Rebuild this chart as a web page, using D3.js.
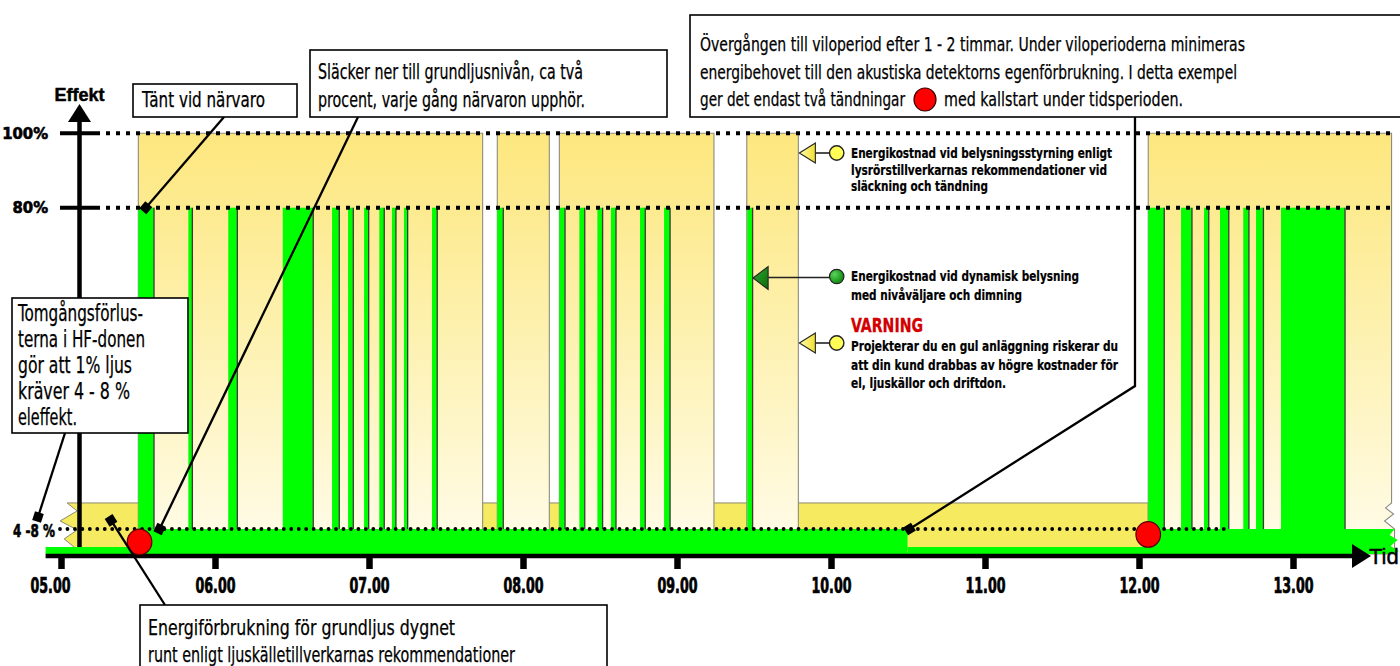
<!DOCTYPE html>
<html><head><meta charset="utf-8">
<script src="https://cdn.jsdelivr.net/npm/d3@7"></script>
<style>html,body{margin:0;padding:0;background:#fff;overflow:hidden}</style>
</head><body>
<svg id="chart" width="1400" height="666"></svg>
<script>
// ---------- DATA ----------
const hourTicks = [5, 6, 7, 8, 9, 10, 11, 12, 13];
const tickLabels = ["05.00", "06.00", "07.00", "08.00", "09.00", "10.00", "11.00", "12.00", "13.00"];
const levelTicks = [100, 80];
const levelLabels = ["100%", "80%"];
const baseTickLevel = 6;
const baseTickLabel = "4 -8 %";

// Yellow: lighting control by tube manufacturers' recommendation (100 %)
const yellowStart = [5.502, 7.833, 8.236, 9.453, 12.060];
const yellowEnd   = [7.738, 8.171, 9.240, 9.788, 13.640];
const yellowLevel = 100;
// Yellow idle (base light around the clock)
const idleStart = 5.04, idleEnd = 12.06, idleLevel = 12;

// Green: dynamic lighting, presence periods at 80 %
const presenceStart = [5.502, 5.827, 6.086, 6.440, 6.760, 6.864, 6.968, 7.067, 7.149, 7.227, 7.409,
  7.833, 8.236, 8.366, 8.483, 8.571, 8.760, 8.916, 9.456,
  12.060, 12.273, 12.422, 12.526, 12.677, 12.760, 12.922];
const presenceEnd = [5.604, 5.853, 6.145, 6.638, 6.807, 6.898, 6.998, 7.099, 7.175, 7.251, 7.443,
  7.872, 8.273, 8.401, 8.517, 8.604, 8.794, 8.955, 9.491,
  12.164, 12.344, 12.453, 12.583, 12.714, 12.808, 13.338];
const presenceLevel = 80;
// Green base level (base light / detector self consumption)
const baseStart = [4.90, 5.502, 10.497, 12.060];
const baseEnd   = [5.502, 10.497, 12.060, 13.66];
const baseLevel = [1.7, 6, 1.7, 6];
// Cold starts
const coldStartTime = [5.51, 12.06];
const coldStartLevel = [2.9, 4.7];

// ---------- SCALES ----------
const svg = d3.select("#chart");
const x = d3.scaleLinear().domain([5, 13]).range([61, 1293]);
const y = d3.scaleLinear().domain([0, 6, 80, 100]).range([554, 529, 207.7, 133.3]);

const NARROW = "'Liberation Sans Narrow','Arial Narrow','DejaVu Sans Condensed',sans-serif";

const defs = svg.append("defs");
const yg = defs.append("linearGradient").attr("id", "yellowGrad")
  .attr("gradientUnits", "userSpaceOnUse").attr("x1", 0).attr("x2", 0)
  .attr("y1", y(100)).attr("y2", y(6));
yg.append("stop").attr("offset", 0).attr("stop-color", "#fde77e");
yg.append("stop").attr("offset", 0.45).attr("stop-color", "#fdf0aa");
yg.append("stop").attr("offset", 1).attr("stop-color", "#fffbe4");
const tg = defs.append("linearGradient").attr("id", "triYellow").attr("x1", 0).attr("x2", 1).attr("y1", 0).attr("y2", 0);
tg.append("stop").attr("offset", 0).attr("stop-color", "#fffbb0");
tg.append("stop").attr("offset", 1).attr("stop-color", "#f2e030");
const gg = defs.append("linearGradient").attr("id", "triGreen").attr("x1", 0).attr("x2", 1).attr("y1", 0).attr("y2", 1);
gg.append("stop").attr("offset", 0).attr("stop-color", "#2fa82f");
gg.append("stop").attr("offset", 1).attr("stop-color", "#0b6a0b");
const rg = defs.append("radialGradient").attr("id", "circGreen").attr("cx", 0.35).attr("cy", 0.35).attr("r", 0.7);
rg.append("stop").attr("offset", 0).attr("stop-color", "#5ad35a");
rg.append("stop").attr("offset", 1).attr("stop-color", "#0a850a");
defs.append("marker").attr("id", "sq").attr("viewBox", "-6 -6 12 12")
  .attr("markerWidth", 12).attr("markerHeight", 12).attr("markerUnits", "userSpaceOnUse")
  .attr("refX", 0).attr("refY", 0).attr("orient", "auto")
  .append("path").attr("d", "M-4.6,-4.6H4.6V4.6H-4.6Z").attr("fill", "#000");

// ---------- IDLE YELLOW BAND ----------
{
  const x0 = x(idleStart), x1 = x(idleEnd), yt = y(idleLevel), yb = y(0);
  const zz = [[0,0],[10,8],[-7,18],[10,27],[-3,36],[8,45]];
  const p = d3.path();
  p.moveTo(x0, yt); p.lineTo(x1, yt); p.lineTo(x1, yb);
  p.lineTo(x0 + zz[zz.length-1][0], yb);
  for (let i = zz.length - 1; i >= 0; i--) p.lineTo(x0 + zz[i][0], yt + zz[i][1]);
  p.closePath();
  svg.append("path").attr("d", p.toString()).attr("fill", "#f6ea60").attr("stroke", "#8a8a70").attr("stroke-width", 1);
}

// ---------- TALL YELLOW COLUMNS ----------
const cols = svg.append("g");
yellowStart.forEach((s, i) => {
  const x0 = x(s), x1 = x(yellowEnd[i]), yt = y(yellowLevel), yb = y(0);
  const last = i === yellowStart.length - 1;
  const p = d3.path();
  p.moveTo(x0, yt); p.lineTo(x1, yt);
  if (last) {
    const b = y(idleLevel);
    p.lineTo(x1, b); p.lineTo(x1 - 6, b + 5); p.lineTo(x1 + 2, b + 11); p.lineTo(x1 - 7, b + 18); p.lineTo(x1 + 3, b + 26); p.lineTo(x1 + 3, yb);
  } else p.lineTo(x1, yb);
  p.lineTo(x0, yb); p.closePath();
  cols.append("path").attr("d", p.toString()).attr("fill", "url(#yellowGrad)").attr("stroke", "#8c8c80").attr("stroke-width", 1.1);
});

// ---------- GREEN PRESENCE BARS ----------
const bars = svg.append("g");
presenceStart.forEach((s, i) => {
  bars.append("rect").attr("x", x(s)).attr("y", y(presenceLevel))
    .attr("width", x(presenceEnd[i]) - x(s)).attr("height", y(0) - y(presenceLevel))
    .attr("fill", "#00ff00");
  bars.append("line").attr("x1", x(presenceEnd[i])).attr("x2", x(presenceEnd[i]))
    .attr("y1", y(presenceLevel)).attr("y2", y(6)).attr("stroke", "#3a3a3a").attr("stroke-width", 1.3);
});

// ---------- GREEN BASE ----------
baseStart.forEach((s, i) => {
  const x0 = x(s), x1 = x(baseEnd[i]), yt = y(baseLevel[i]), yb = y(0);
  const p = d3.path();
  p.moveTo(x0, yt); p.lineTo(x1, yt);
  if (i === baseStart.length - 1) {
    p.lineTo(x1 - 5, yt + 6); p.lineTo(x1 + 3, yt + 11); p.lineTo(x1 - 4, yt + 17); p.lineTo(x1 + 4, yt + 22); p.lineTo(x1, yb);
  } else p.lineTo(x1, yb);
  p.lineTo(x0, yb); p.closePath();
  svg.append("path").attr("d", p.toString()).attr("fill", "#00ff00");
});

// ---------- GRID / LEVEL LINES ----------
const xLeft = 60, xRight = 1395;
levelTicks.forEach((lv, i) => {
  svg.append("line").attr("x1", xLeft).attr("x2", 100).attr("y1", y(lv)).attr("y2", y(lv))
    .attr("stroke", "#000").attr("stroke-width", 4);
  svg.append("line").attr("x1", 106).attr("x2", xRight).attr("y1", y(lv)).attr("y2", y(lv))
    .attr("stroke", "#000").attr("stroke-width", 4).attr("stroke-dasharray", "4,6");
  svg.append("text").attr("x", 48).attr("y", y(lv) + 5.5).attr("text-anchor", "end")
    .attr("font-family", NARROW).attr("font-weight", "bold").attr("font-size", 16.5)
    .attr("stroke", "#000").attr("stroke-width", 0.6).text(levelLabels[i]);
});
svg.append("line").attr("x1", xLeft).attr("x2", x(12.59)).attr("y1", y(baseTickLevel)).attr("y2", y(baseTickLevel))
  .attr("stroke", "#000").attr("stroke-width", 3.8).attr("stroke-linecap", "round").attr("stroke-dasharray", "0.01,7.45");
svg.append("text").attr("x", 13).attr("y", y(baseTickLevel) + 8).attr("font-family", NARROW)
  .attr("font-weight", "bold").attr("font-size", 17.5).attr("stroke", "#000").attr("stroke-width", 0.6)
  .attr("textLength", 42).attr("lengthAdjust", "spacingAndGlyphs").text(baseTickLabel);

// ---------- AXES ----------
const yAxisX = 79.5;
svg.append("line").attr("x1", yAxisX).attr("x2", yAxisX).attr("y1", 120).attr("y2", y(1.7))
  .attr("stroke", "#000").attr("stroke-width", 4.5);
svg.append("path").attr("d", d3.line()([[yAxisX - 11.5, 122], [yAxisX + 11.5, 122], [yAxisX, 104]]) + "Z").attr("fill", "#000");
svg.append("text").attr("x", yAxisX).attr("y", 100.5).attr("text-anchor", "middle")
  .attr("font-family", "'Liberation Sans',Arial,sans-serif").attr("font-weight", "bold").attr("font-size", 18)
  .attr("stroke", "#000").attr("stroke-width", 0.5).text("Effekt");

const axisY = 556;
svg.append("line").attr("x1", x(4.9)).attr("x2", 1354).attr("y1", axisY).attr("y2", axisY)
  .attr("stroke", "#000").attr("stroke-width", 4.5);
svg.append("path").attr("d", d3.line()([[1352, axisY - 12], [1371, axisY], [1352, axisY + 12]]) + "Z").attr("fill", "#000");
svg.append("text").attr("x", 1369).attr("y", axisY + 8).attr("font-family", "'Liberation Sans',Arial,sans-serif")
  .attr("font-size", 22).attr("stroke", "#000").attr("stroke-width", 0.4).text("Tid");

const xAxis = d3.axisBottom(x).tickValues(hourTicks).tickSize(13)
  .tickFormat((d, i) => tickLabels[i]);
const ax = svg.append("g").attr("transform", `translate(0,${axisY})`).call(xAxis);
ax.select(".domain").remove();
ax.selectAll(".tick line").attr("stroke", "#000").attr("stroke-width", 6.5);
ax.selectAll(".tick text").attr("y", 37).attr("dy", 0)
  .attr("dx", (d, i) => i === 0 ? -11 : 0)
  .attr("font-family", NARROW).attr("font-weight", "bold").attr("font-size", 20.5)
  .attr("stroke", "#000").attr("stroke-width", 0.7)
  .attr("textLength", 40).attr("lengthAdjust", "spacingAndGlyphs").attr("fill", "#000");

// ---------- COLD START CIRCLES ----------
coldStartTime.forEach((t, i) => {
  svg.append("ellipse").attr("cx", x(t)).attr("cy", y(coldStartLevel[i])).attr("rx", 12.3).attr("ry", 12.8)
    .attr("fill", "#ff0000").attr("stroke", "#5a0000").attr("stroke-width", 1.2);
});

// ---------- ANNOTATIONS ----------
function box(x0, y0, w, h) {
  svg.append("rect").attr("x", x0).attr("y", y0).attr("width", w).attr("height", h)
    .attr("fill", "#fff").attr("stroke", "#000").attr("stroke-width", 1.6);
}
function txt(x0, y0, s, size, len, opts = {}) {
  const t = svg.append("text").attr("x", x0).attr("y", y0).attr("font-family", NARROW)
    .attr("font-size", size).attr("fill", opts.fill || "#000").text(s);
  if (opts.bold) t.attr("font-weight", "bold");
  if (opts.heavy) t.attr("stroke", opts.fill || "#000").attr("stroke-width", opts.heavy);
  if (len) t.attr("textLength", len).attr("lengthAdjust", "spacingAndGlyphs");
  return t;
}
function leader(points) {
  svg.append("path").attr("d", d3.line()(points)).attr("fill", "none")
    .attr("stroke", "#000").attr("stroke-width", 2.3).attr("marker-end", "url(#sq)");
}

// leaders first (behind boxes)
leader([[224, 117], [x(presenceStart[0]) + 7.5, y(presenceLevel)]]);
leader([[358, 117], [x(5.64), y(6)]]);
leader([[1135, 117], [1135, 386], [x(10.51), y(6)]]);
leader([[165, 605], [x(5.325), y(8)]]);
leader([[65, 433], [38, 517]]);

const H = 0.25;
box(133, 84, 164, 33);
txt(142, 107, "Tänt vid närvaro", 20.5, 123, {heavy: H});

box(310, 50, 357, 67);
txt(318, 79, "Släcker ner till grundljusnivån, ca två", 20.5, 265, {heavy: H});
txt(318, 107, "procent, varje gång närvaron upphör.", 20.5, 267, {heavy: H});

box(690, 15, 712, 102);
txt(700, 51, "Övergången till viloperiod efter 1 - 2 timmar. Under viloperioderna minimeras", 19.5, 545, {heavy: H});
txt(700, 79, "energibehovet till den akustiska detektorns egenförbrukning. I detta exempel", 19.5, 537, {heavy: H});
{
  const t3 = svg.append("text").attr("y", 106).attr("font-family", NARROW).attr("font-size", 19.5)
    .attr("fill", "#000").attr("stroke", "#000").attr("stroke-width", H);
  t3.append("tspan").attr("x", 700).attr("textLength", 205).attr("lengthAdjust", "spacingAndGlyphs")
    .text("ger det endast två tändningar");
  t3.append("tspan").attr("x", 944).attr("textLength", 239).attr("lengthAdjust", "spacingAndGlyphs")
    .text("med kallstart under tidsperioden.");
}
svg.append("ellipse").attr("cx", 925).attr("cy", 99.5).attr("rx", 11).attr("ry", 11.5)
  .attr("fill", "#ff0000").attr("stroke", "#300").attr("stroke-width", 1.2);

box(140, 605, 467, 80);
txt(148, 635, "Energiförbrukning för grundljus dygnet", 20.5, 307, {heavy: H});
txt(148, 662, "runt enligt ljuskälletillverkarnas rekommendationer", 20.5, 367, {heavy: H});

box(12, 298, 176, 135);
const tomLines = ["Tomgångsförlus-", "terna i HF-donen", "gör att 1% ljus", "kräver 4 - 8 %", "eleffekt."];
const tomLens = [125, 127, 114, 112, 59];
tomLines.forEach((s, i) => txt(18, 320.5 + 26 * i, s, 22.5, tomLens[i], {heavy: H}));

// ---------- LEGEND ----------
const legX = 851, circX = 836.7;
function triangle(tipX, cy, w, h, fill) {
  svg.append("path").attr("d", d3.line()([[tipX, cy], [tipX + w, cy - h / 2], [tipX + w, cy + h / 2]]) + "Z")
    .attr("fill", fill).attr("stroke", "#222").attr("stroke-width", 1.1);
}
// item 1 (yellow)
const tip1 = x(yellowEnd[3]) + 1;
svg.append("line").attr("x1", tip1 + 16).attr("x2", circX - 7).attr("y1", 153).attr("y2", 153).attr("stroke", "#222").attr("stroke-width", 1.6);
triangle(tip1, 153, 16, 20, "url(#triYellow)");
svg.append("circle").attr("cx", circX).attr("cy", 153).attr("r", 7.2).attr("fill", "#ffff55").attr("stroke", "#222").attr("stroke-width", 1.4);
txt(legX, 158, "Energikostnad vid belysningsstyrning enligt", 14, 261, {bold: true, heavy: 0.2});
txt(legX, 174.5, "lysrörstillverkarnas rekommendationer vid", 14, 256, {bold: true, heavy: 0.2});
txt(legX, 191, "släckning och tändning", 14, 137, {bold: true, heavy: 0.2});
// item 2 (green)
const tip2 = x(presenceEnd[18]) + 0.5;
svg.append("line").attr("x1", tip2 + 15).attr("x2", circX - 7).attr("y1", 277.5).attr("y2", 277.5).attr("stroke", "#222").attr("stroke-width", 1.4);
triangle(tip2, 278, 15, 23, "url(#triGreen)");
svg.append("circle").attr("cx", circX).attr("cy", 276.5).attr("r", 7.2).attr("fill", "url(#circGreen)").attr("stroke", "#222").attr("stroke-width", 1.2);
txt(legX, 281, "Energikostnad vid dynamisk belysning", 14, 228, {bold: true, heavy: 0.2});
txt(legX, 299.5, "med nivåväljare och dimning", 14, 171, {bold: true, heavy: 0.2});
// item 3 (warning)
txt(legX, 332, "VARNING", 19, 72, {bold: true, fill: "#d20000", heavy: 0.3});
svg.append("line").attr("x1", tip1 + 16).attr("x2", circX - 7).attr("y1", 343).attr("y2", 343).attr("stroke", "#222").attr("stroke-width", 1.6);
triangle(tip1, 343, 16, 20, "url(#triYellow)");
svg.append("circle").attr("cx", circX).attr("cy", 343).attr("r", 7.2).attr("fill", "#ffff55").attr("stroke", "#222").attr("stroke-width", 1.4);
txt(legX, 351, "Projekterar du en gul anläggning riskerar du", 14, 267, {bold: true, heavy: 0.2});
txt(legX, 369.5, "att din kund drabbas av högre kostnader för", 14, 267, {bold: true, heavy: 0.2});
txt(legX, 388, "el, ljuskällor och driftdon.", 14, 155, {bold: true, heavy: 0.2});
</script>
</body></html>
